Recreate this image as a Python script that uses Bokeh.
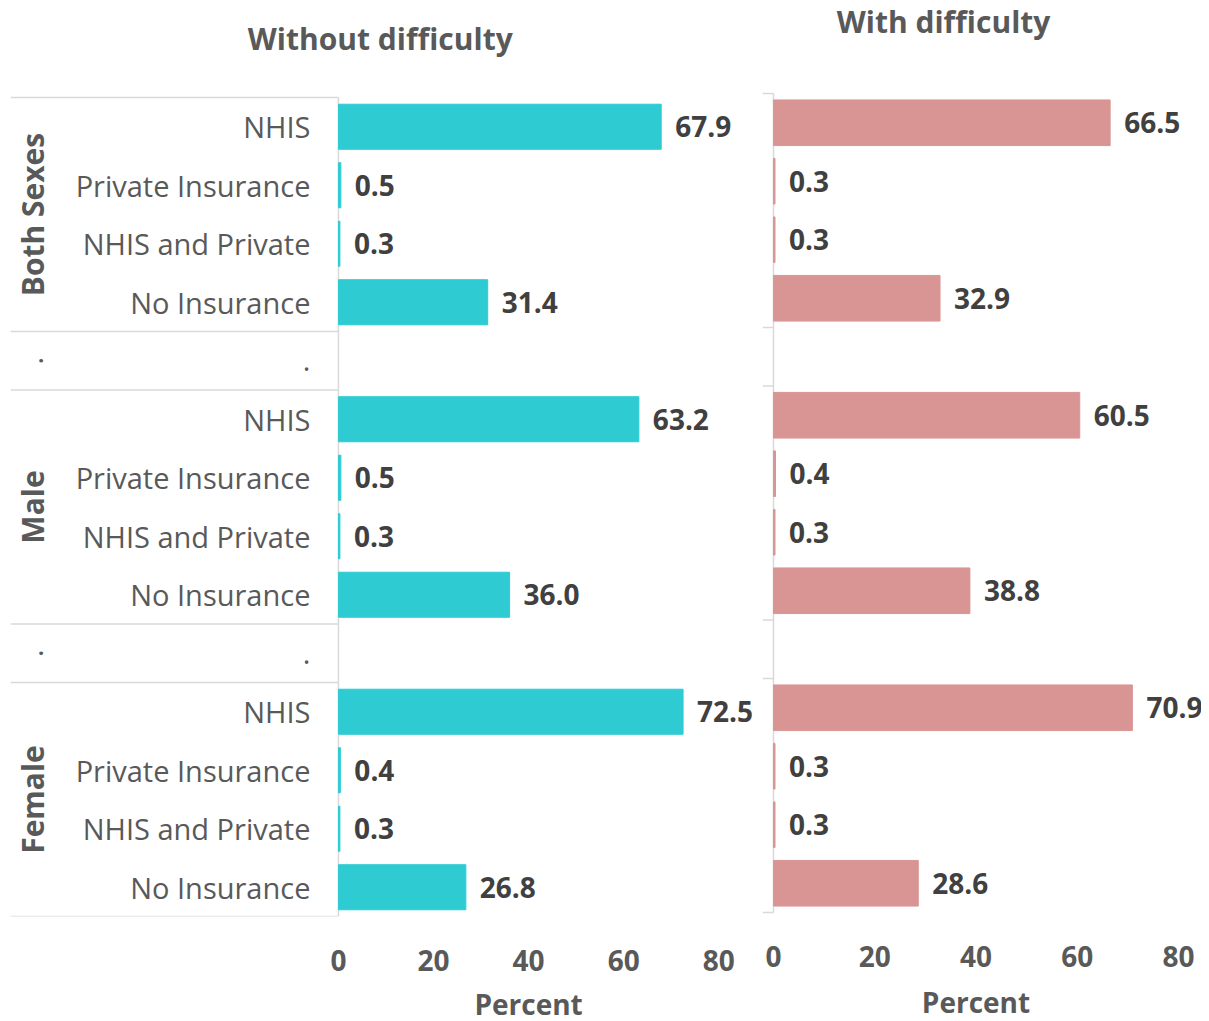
import math
from bokeh.plotting import figure
from bokeh.models import Range1d, FixedTicker, LinearAxis
from bokeh.layouts import row
from bokeh.embed import file_html
from bokeh.resources import INLINE
from bokeh.core.properties import value

# ---------------- data ----------------
groups = ["Both Sexes", "Male", "Female"]
categories = ["NHIS", "Private Insurance", "NHIS and Private", "No Insurance"]
without_difficulty = [67.9, 0.5, 0.3, 31.4,
                      63.2, 0.5, 0.3, 36.0,
                      72.5, 0.4, 0.3, 26.8]
with_difficulty = [66.5, 0.3, 0.3, 32.9,
                   60.5, 0.4, 0.3, 38.8,
                   70.9, 0.3, 0.3, 28.6]
x_ticks = [0, 20, 40, 60, 80]
panel_titles = ["Without difficulty", "With difficulty"]
axis_title = "Percent"
spacer_label = "."

# ---------------- styling ----------------
FONT = "Open Sans"
CYAN = "#2ECBD3"
PINK = "#D99594"
GRID = "#D9D9D9"
LABEL_COLOR = "#595959"
VALUE_COLOR = "#404040"

per_group = len(categories) + 1
n_rows = len(groups) * per_group - 1

ys, cat_labels = [], []
for g in range(len(groups)):
    for c, cat in enumerate(categories):
        ys.append(n_rows - (g * per_group + c) - 0.5)
        cat_labels.append(cat)
group_ys = [n_rows - (g * per_group + len(categories) / 2) for g in range(len(groups))]
spacer_ys = [n_rows - (g * per_group + len(categories)) - 0.5 for g in range(len(groups) - 1)]
boundaries = sorted({0, n_rows} | {n_rows - g * per_group for g in range(len(groups))}
                    | {n_rows - g * per_group - len(categories) for g in range(len(groups))})


def fmt(v):
    return f"{v:.1f}"


def style_x_axis(p, standoff1, standoff2):
    ax = p.xaxis[0]
    ax.ticker = FixedTicker(ticks=x_ticks)
    ax.axis_line_color = None
    ax.major_tick_line_color = None
    ax.minor_tick_line_color = None
    ax.major_label_standoff = standoff1
    ax.major_label_text_font = FONT
    ax.major_label_text_font_size = "28px"
    ax.major_label_text_color = LABEL_COLOR
    ax.major_label_text_font_style = "bold"
    mid = (x_ticks[0] + x_ticks[-1]) / 2
    ax2 = LinearAxis(ticker=FixedTicker(ticks=[mid]), major_label_overrides={mid: axis_title})
    ax2.axis_line_color = None
    ax2.major_tick_line_color = None
    ax2.minor_tick_line_color = None
    ax2.major_label_standoff = standoff2
    ax2.major_label_text_font = FONT
    ax2.major_label_text_font_size = "28px"
    ax2.major_label_text_color = LABEL_COLOR
    ax2.major_label_text_font_style = "bold"
    p.add_layout(ax2, "below")


def add_title(p, x, y, text):
    p.text(x=[x], y=[y], text=[text], text_align="center", text_baseline="middle",
           text_font=value(FONT), text_font_size="30px", text_font_style="bold",
           text_color=LABEL_COLOR)


ROW_PX = 58.5
FRAME_H = 916

# ---------------- left panel ----------------
LABEL_LEFT = -69
p1 = figure(frame_width=751, frame_height=FRAME_H,
            x_range=Range1d(LABEL_LEFT, 89), y_range=Range1d(0, FRAME_H / ROW_PX),
            min_border_left=10, min_border_right=0, min_border_top=0, min_border_bottom=0,
            y_axis_location=None, output_backend="svg", toolbar_location=None)
p1.outline_line_color = None
p1.grid.visible = False

p1.segment(x0=[LABEL_LEFT] * len(boundaries), x1=[0] * len(boundaries),
           y0=boundaries, y1=boundaries, line_color=GRID, line_width=1.5)
p1.segment(x0=[0], x1=[0], y0=[0], y1=[n_rows], line_color=GRID, line_width=1.5)

p1.hbar(y=ys, left=0, right=without_difficulty, height=0.77, fill_color=CYAN, line_color=CYAN)
p1.text(x=without_difficulty, y=ys, text=[fmt(v) for v in without_difficulty], x_offset=14,
        text_baseline="middle", text_align="left", text_font=value(FONT),
        text_font_size="28px", text_font_style="bold", text_color=VALUE_COLOR)

p1.text(x=[-5.9] * len(ys), y=ys, text=cat_labels, text_align="right", text_baseline="middle",
        text_font=value(FONT), text_font_size="29px", text_color=LABEL_COLOR)
p1.text(x=[-64.3] * len(groups), y=group_ys, text=groups, angle=math.pi / 2,
        text_align="center", text_baseline="middle", text_font=value(FONT),
        text_font_size="30px", text_font_style="bold", text_color=LABEL_COLOR)
p1.text(x=[-5.9] * len(spacer_ys), y=spacer_ys, text=[spacer_label] * len(spacer_ys),
        text_align="right", text_baseline="middle", text_font=value(FONT),
        text_font_size="29px", text_color=LABEL_COLOR)
p1.text(x=[-64.3] * len(spacer_ys), y=spacer_ys, text=[spacer_label] * len(spacer_ys),
        angle=math.pi / 2, text_align="center", text_baseline="middle", text_font=value(FONT),
        text_font_size="29px", text_color=LABEL_COLOR)

add_title(p1, 8.8, (FRAME_H - 38) / ROW_PX, panel_titles[0])
style_x_axis(p1, 27, 5)

# ---------------- right panel ----------------
TICK_LEN = 2.17
shift = 4 / ROW_PX
p2 = figure(frame_width=439, frame_height=FRAME_H,
            x_range=Range1d(-TICK_LEN, 84.55), y_range=Range1d(-shift, FRAME_H / ROW_PX - shift),
            min_border_left=1, min_border_right=0, min_border_top=0, min_border_bottom=0,
            y_axis_location=None, output_backend="svg", toolbar_location=None)
p2.outline_line_color = None
p2.grid.visible = False

p2.segment(x0=[0], x1=[0], y0=[0], y1=[n_rows], line_color=GRID, line_width=1.5)
p2.segment(x0=[-TICK_LEN] * len(boundaries), x1=[0] * len(boundaries),
           y0=boundaries, y1=boundaries, line_color=GRID, line_width=1.5)

p2.hbar(y=ys, left=0, right=with_difficulty, height=0.78, fill_color=PINK, line_color=PINK)
p2.text(x=with_difficulty, y=ys, text=[fmt(v) for v in with_difficulty], x_offset=14,
        text_baseline="middle", text_align="left", text_font=value(FONT),
        text_font_size="28px", text_font_style="bold", text_color=VALUE_COLOR)

add_title(p2, 33.6, (FRAME_H - 21) / ROW_PX - shift, panel_titles[1])
style_x_axis(p2, 23, 7)

layout = row(p1, p2, spacing=0)
open("out.html", "w").write(file_html(layout, INLINE))
